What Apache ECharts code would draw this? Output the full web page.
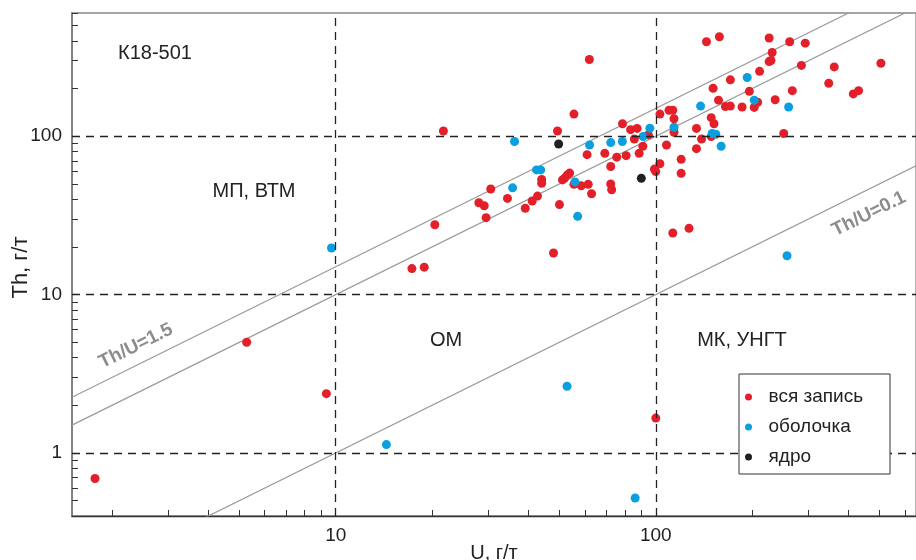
<!DOCTYPE html>
<html>
<head>
<meta charset="utf-8">
<title>K18-501 Th-U</title>
<script src="https://cdn.jsdelivr.net/npm/echarts@6/dist/echarts.min.js"></script>
<style>
html, body { margin: 0; padding: 0; background: #fff; }
#main { width: 916px; height: 560px; }
</style>
</head>
<body>
<div id="main"></div>
<script>
var myChart = echarts.init(document.getElementById('main'));
var font = '"Liberation Sans", Arial, sans-serif';

// [U, Th] г/т
var wholeGrain = [
    [21.7, 108], [20.4, 27.6], [17.3, 14.6], [18.9, 14.9], [5.27, 5.0], [9.35, 2.37], [1.77, 0.69],
    [100, 1.66], [62, 305], [144, 395], [158, 425], [226, 417], [262, 395], [293, 387], [231, 338],
    [226, 296], [229, 301], [285, 280], [361, 274], [505, 289], [211, 257], [171, 227], [347, 216],
    [267, 194], [414, 185], [430, 194], [196, 192], [151, 201], [157, 169], [236, 170], [208, 164],
    [203, 152], [165, 154], [171, 155], [186, 153], [251, 104], [149, 131], [152, 120], [149, 99.5],
    [134, 112], [139, 96], [134, 83.5], [103, 138], [110, 146], [113, 146], [114, 129], [114, 106],
    [108, 88], [120, 71.5], [120, 58.3], [103, 67], [99, 62], [100, 59.8], [113, 24.5], [127, 26.2],
    [55.5, 138], [49.3, 108], [78.7, 120], [83.4, 110], [87.4, 112], [94.8, 102], [85.7, 96],
    [91.1, 86.4], [88.7, 78], [80.8, 75.4], [75.5, 73.8], [69.3, 78], [61, 76.5], [72.3, 64.4],
    [53.8, 58.5], [52.9, 57], [51.9, 54.4], [51.1, 53], [44, 53.3], [44, 50.4], [30.5, 46.4],
    [34.4, 40.5], [28, 38], [29.1, 36.4], [29.5, 30.6], [39.1, 35.1], [41.1, 39], [42.7, 41.9],
    [50, 37], [55.5, 49.7], [58.5, 48.6], [61.5, 49.7], [63, 43.3], [72.3, 49.9], [72.8, 45.9],
    [47.9, 18.3]
];
var rim = [
    [36.2, 92.6], [62.1, 88], [72.3, 91.2], [78.6, 92.6], [91.2, 99.5], [95.8, 112.5], [114, 114],
    [138, 155], [193, 235], [203, 169], [260, 153], [150, 104], [154, 103], [160, 86.4],
    [42.4, 61.3], [43.7, 61.3], [35.7, 47.2], [55.9, 51.5], [57, 31.2], [257, 17.6], [9.7, 19.7],
    [14.4, 1.13], [52.8, 2.64], [86.2, 0.52]
];
var core = [[49.7, 89.3], [90.1, 54.2]];

var seriesNames = ['вся запись', 'оболочка', 'ядро'];
var seriesColors = ['#e3202a', '#0aa0e0', '#231f20'];

var ratios = [1.5, 1, 0.1];
var uRange = [1.5, 650];
var thRange = [0.4, 600];

var xTicks = [2, 3, 4, 5, 6, 7, 8, 9, 10, 20, 30, 40, 50, 60, 70, 80, 90, 100, 200, 300, 400, 500, 600];
var yTicks = [0.5, 0.6, 0.7, 0.8, 0.9, 1, 2, 3, 4, 5, 6, 7, 8, 9, 10, 20, 30, 40, 50, 60, 70, 80, 90, 100, 200, 300, 400, 500, 600];
var xLabels = [10, 100];
var yLabels = [1, 10, 100];
var boundaries = { u: [10, 100], th: [1, 10, 100] };

var ratioSeries = ratios.map(function (r, i) {
    var s = {
        name: 'Th/U=' + r,
        type: 'line',
        data: uRange.map(function (u) { return [u, u * r]; }),
        showSymbol: false,
        silent: true,
        lineStyle: { color: '#9a9a9a', width: 1.2 },
        z: 1
    };
    if (i === 0) {
        s.markLine = {
            silent: true,
            symbol: ['none', 'none'],
            label: { show: false },
            lineStyle: { color: '#222', type: [8, 6], width: 1.3 },
            data: boundaries.u.map(function (v) { return { xAxis: v }; })
                .concat(boundaries.th.map(function (v) { return { yAxis: v }; }))
        };
    }
    return s;
});

var pointSeries = [wholeGrain, rim, core].map(function (d, i) {
    return {
        name: seriesNames[i],
        type: 'scatter',
        data: d,
        symbol: 'circle',
        symbolSize: 9,
        itemStyle: { color: seriesColors[i], opacity: 1 },
        z: 3 + i
    };
});

var option = {
    animation: false,
    backgroundColor: '#fff',
    textStyle: { fontFamily: font },
    grid: {
        left: 72, top: 13, right: 0, bottom: 44,
        outerBoundsMode: 'none',
        containLabel: false,
        show: true, borderColor: '#888', borderWidth: 1.3
    },
    xAxis: {
        type: 'log',
        logBase: 10,
        min: uRange[0],
        max: uRange[1],
        name: 'U, г/т',
        nameLocation: 'middle',
        nameGap: 27,
        nameMoveOverlap: false,
        nameTextStyle: { fontSize: 20, color: '#222', fontFamily: font },
        axisLine: { lineStyle: { color: '#333', width: 1.3 } },
        axisTick: { inside: true, length: 6, customValues: xTicks, lineStyle: { color: '#333' } },
        axisLabel: { customValues: xLabels, fontSize: 19, color: '#222', margin: 10, fontFamily: font },
        splitLine: { show: false },
        minorTick: { show: false }
    },
    yAxis: {
        type: 'log',
        logBase: 10,
        min: thRange[0],
        max: thRange[1],
        name: 'Th, г/т',
        nameLocation: 'middle',
        nameGap: 40,
        nameRotate: 90,
        nameMoveOverlap: false,
        nameTextStyle: { fontSize: 22, color: '#222', fontFamily: font, padding: [0, 6, 0, 0] },
        axisLine: { lineStyle: { color: '#777', width: 1.6 } },
        axisTick: { inside: true, length: 6, customValues: yTicks, lineStyle: { color: '#333' } },
        axisLabel: { customValues: yLabels, fontSize: 19, color: '#222', margin: 10, fontFamily: font },
        splitLine: { show: false },
        minorTick: { show: false }
    },
    legend: {
        data: seriesNames,
        orient: 'vertical',
        left: 739,
        top: 374,
        z: 20,
        icon: 'circle',
        itemWidth: 30,
        itemHeight: 7,
        itemGap: 10,
        padding: [13, 27, 7, 6],
        borderColor: '#333',
        borderWidth: 1,
        backgroundColor: '#fff',
        textStyle: { fontSize: 19, color: '#222', fontFamily: font, lineHeight: 20 }
    },
    graphic: [
        { type: 'text', x: 155, y: 53, style: { text: 'К18-501', font: '20px ' + font, fill: '#222', align: 'center', verticalAlign: 'middle' } },
        { type: 'text', x: 254, y: 191, style: { text: 'МП, ВТМ', font: '20px ' + font, fill: '#222', align: 'center', verticalAlign: 'middle' } },
        { type: 'text', x: 446, y: 340, style: { text: 'ОМ', font: '20px ' + font, fill: '#222', align: 'center', verticalAlign: 'middle' } },
        { type: 'text', x: 742, y: 340, style: { text: 'МК, УНГТ', font: '20px ' + font, fill: '#222', align: 'center', verticalAlign: 'middle' } },
        { type: 'text', x: 136, y: 346, rotation: 26.3 * Math.PI / 180, style: { text: 'Th/U=1.5', font: 'bold 19px ' + font, fill: '#8c8c8c', align: 'center', verticalAlign: 'middle' } },
        { type: 'text', x: 869, y: 214, rotation: 26.3 * Math.PI / 180, style: { text: 'Th/U=0.1', font: 'bold 19px ' + font, fill: '#8c8c8c', align: 'center', verticalAlign: 'middle' } }
    ],
    series: ratioSeries.concat(pointSeries)
};

myChart.setOption(option);
</script>
</body>
</html>
